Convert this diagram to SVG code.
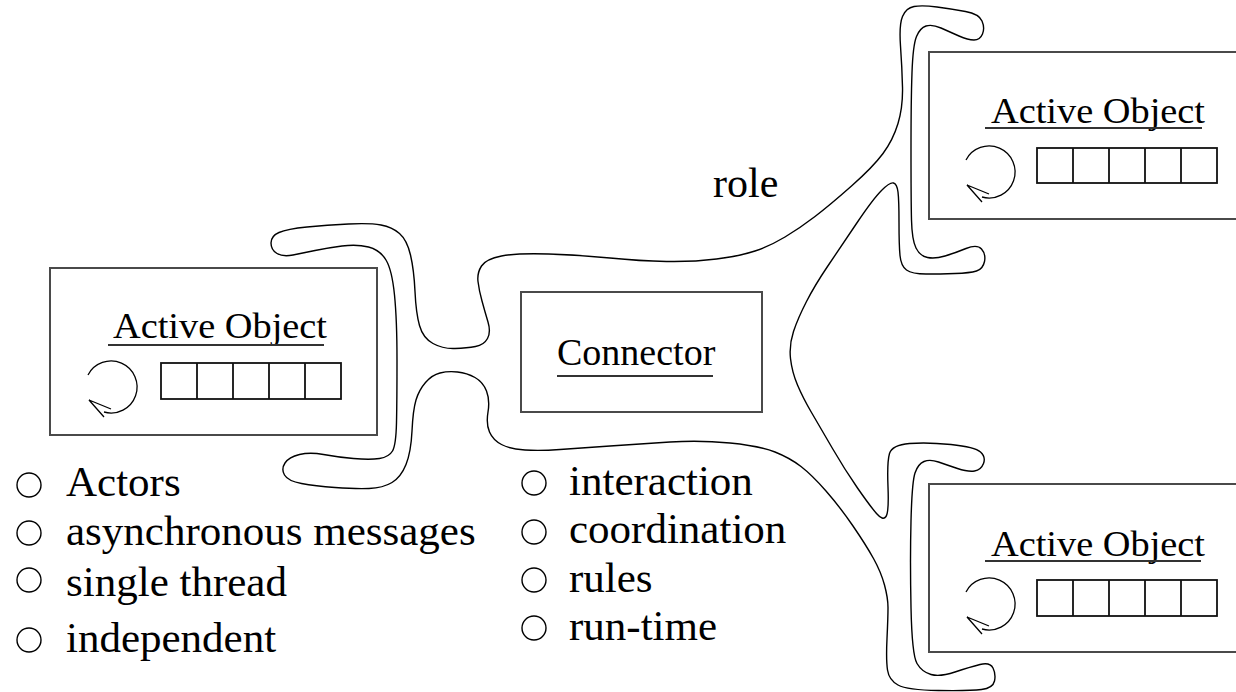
<svg xmlns="http://www.w3.org/2000/svg" width="1236" height="692" viewBox="0 0 1236 692">
<style>
.box{fill:#fff;stroke:#4a4a4a;stroke-width:2}
.q{fill:none;stroke:#111;stroke-width:1.8}
.thin{fill:none;stroke:#000;stroke-width:1.3}
.blob{fill:none;stroke:#000;stroke-width:1.4;stroke-linejoin:round}
.ul{stroke:#333;stroke-width:2}
.t{font-family:"Liberation Serif","Times New Roman",serif;fill:#000}
.ao{font-size:36px}
.lst{font-size:43px}
.bul{fill:none;stroke:#000;stroke-width:1.4}
</style>
<rect width="1236" height="692" fill="#fff"/>

<g id="connectors">
<path class="blob" d="M501.5,256 Q517,253 548.5,254 Q580,255 610,258 Q640,261 666.5,261.5 Q693,262 716.5,259 Q740,256 755,251 Q770,246 785,237 Q800,228 815,216.5 Q830,205 851.5,186 Q873,167 883,153.5 Q893,140 898,123.5 Q903,107 902.5,87 Q902,67 900.5,46 Q899,25 902.5,16.5 Q906,8 914,6.5 Q922,5 937,7 Q952,9 965.5,11.5 Q979,14 982,21 Q985,28 982.5,34 Q980,40 974,40 Q968,40 959,36 Q950,32 941,28 Q932,24 926,26 Q920,28 916.5,36.5 Q913,45 912,72.5 Q911,100 911,150 Q911,200 911.5,220 Q912,240 916,248 Q920,256 927.5,257.5 Q935,259 945,256 Q955,253 966,248.5 Q977,244 981.5,249 Q986,254 984.5,261.5 Q983,269 976.5,271 Q970,273 955,273.5 Q940,274 926,274 Q912,274 906.5,270 Q901,266 900,255.5 Q899,245 899,222.5 Q899,200 898,192 Q897,184 893.5,183 Q890,182 881.5,190.5 Q873,199 856.5,223.5 Q840,248 827.5,266.5 Q815,285 806.5,301.5 Q798,318 793.5,331.5 Q789,345 790.5,358.5 Q792,372 797.5,385 Q803,398 811.5,412.5 Q820,427 832.5,448.5 Q845,470 857.5,488 Q870,506 876.5,513.5 Q883,521 886,516.5 Q889,512 888,487 Q887,462 889.5,453.5 Q892,445 909.5,443.5 Q927,442 951,444.5 Q975,447 980.5,452 Q986,457 983.5,463.5 Q981,470 974.5,471 Q968,472 957.5,468.5 Q947,465 938.5,462 Q930,459 924,461.5 Q918,464 915,473 Q912,482 911,521 Q910,560 911,607.5 Q912,655 917,663.5 Q922,672 931,674.5 Q940,677 955,672 Q970,667 980,664.5 Q990,662 993,668 Q996,674 994.5,681 Q993,688 981.5,689.5 Q970,691 938.5,690.5 Q907,690 898,685 Q889,680 887.5,670 Q886,660 887,638.5 Q888,617 888,607.5 Q888,598 884.5,585 Q881,572 873.5,558.5 Q866,545 853,526 Q840,507 826,491 Q812,475 801,466.5 Q790,458 775,452 Q760,446 730,443 Q700,440 670,442 Q640,444 610,446 Q580,448 560,449.5 Q540,451 525,450 Q510,449 501.5,444.5 Q493,440 489.5,432 Q486,424 488,412 Q490,400 486.5,391 Q483,382 475,377.5 Q467,373 457.5,372 Q448,371 440,373 Q432,375 425.5,382.5 Q419,390 416,400 Q413,410 412,431 Q411,452 406,464.5 Q401,477 392,482.5 Q383,488 369,488.5 Q355,489 335,487.5 Q315,486 301.5,483.5 Q288,481 284.5,475 Q281,469 285,463 Q289,457 299.5,454.5 Q310,452 323.5,454.5 Q337,457 353.5,458.5 Q370,460 379.5,458.5 Q389,457 392.5,451 Q396,445 396.5,422.5 Q397,400 397,360 Q397,320 394.5,295 Q392,270 386,260 Q380,250 368.5,247 Q357,244 342,246 Q327,248 315,250.5 Q303,253 293,255 Q283,257 277,253.5 Q271,250 271,243 Q271,236 279,232.5 Q287,229 307,227 Q327,225 348.5,224 Q370,223 381,225 Q392,227 399.5,233.5 Q407,240 410.5,255 Q414,270 415,291.5 Q416,313 419.5,325.5 Q423,338 433,343.5 Q443,349 455,348.5 Q467,348 475.5,346.5 Q484,345 487.5,338.5 Q491,332 488,322 Q485,312 482,301 Q479,290 478,281.5 Q477,273 481.5,266 Q486,259 501.5,256 Z"/>
</g>

<g id="ao-left" transform="translate(50,268)">
<rect class="box" x="0" y="0" width="327" height="167"/>
<text class="t ao" x="63" y="70" textLength="214" lengthAdjust="spacingAndGlyphs">Active Object</text>
<line class="ul" x1="58" y1="77" x2="274" y2="77"/>
<path class="thin" d="M38,107 A26,26 0 1,1 54,144"/>
<path class="thin" d="M61,141 L39,132 L54,149"/>
<rect class="q" x="111" y="95" width="180" height="36"/>
<path class="q" d="M147,95 V131 M183,95 V131 M219,95 V131 M255,95 V131"/>
</g>

<g id="ao-top-right" transform="translate(929,52)">
<rect class="box" x="0" y="0" width="327" height="167"/>
<text class="t ao" x="62" y="71" textLength="214" lengthAdjust="spacingAndGlyphs">Active Object</text>
<line class="ul" x1="56" y1="76" x2="273" y2="76"/>
<path class="thin" d="M37,108 A26,26 0 1,1 53,145"/>
<path class="thin" d="M60,142 L38,133 L53,150"/>
<rect class="q" x="108" y="96" width="180" height="35"/>
<path class="q" d="M144,96 V131 M180,96 V131 M216,96 V131 M252,96 V131"/>
</g>

<g id="ao-bottom-right" transform="translate(929,484)">
<rect class="box" x="0" y="0" width="327" height="168"/>
<text class="t ao" x="62" y="72" textLength="214" lengthAdjust="spacingAndGlyphs">Active Object</text>
<line class="ul" x1="56" y1="77" x2="272" y2="77"/>
<path class="thin" d="M37,108 A26,26 0 1,1 53,145"/>
<path class="thin" d="M60,142 L38,133 L53,150"/>
<rect class="q" x="108" y="96" width="180" height="36"/>
<path class="q" d="M144,96 V132 M180,96 V132 M216,96 V132 M252,96 V132"/>
</g>

<g id="connector">
<rect class="box" x="521" y="292" width="241" height="120"/>
<text class="t" x="557" y="365" font-size="38">Connector</text>
<line class="ul" x1="557" y1="376" x2="713" y2="376"/>
</g>

<g id="role-label">
<text class="t" x="713" y="197" font-size="42">role</text>
</g>

<g id="actor-list">
<circle class="bul" cx="29" cy="485" r="12"/>
<circle class="bul" cx="29" cy="533" r="12"/>
<circle class="bul" cx="29" cy="580" r="12"/>
<circle class="bul" cx="29" cy="640" r="12"/>
<text class="t lst" x="66" y="496">Actors</text>
<text class="t lst" x="66" y="545">asynchronous messages</text>
<text class="t lst" x="66" y="596">single thread</text>
<text class="t lst" x="66" y="652">independent</text>
</g>

<g id="connector-list">
<circle class="bul" cx="534" cy="483" r="12"/>
<circle class="bul" cx="534" cy="532" r="12"/>
<circle class="bul" cx="534" cy="580" r="12"/>
<circle class="bul" cx="534" cy="628" r="12"/>
<text class="t lst" x="569" y="495">interaction</text>
<text class="t lst" x="569" y="543">coordination</text>
<text class="t lst" x="569" y="592">rules</text>
<text class="t lst" x="569" y="640">run-time</text>
</g>
</svg>
